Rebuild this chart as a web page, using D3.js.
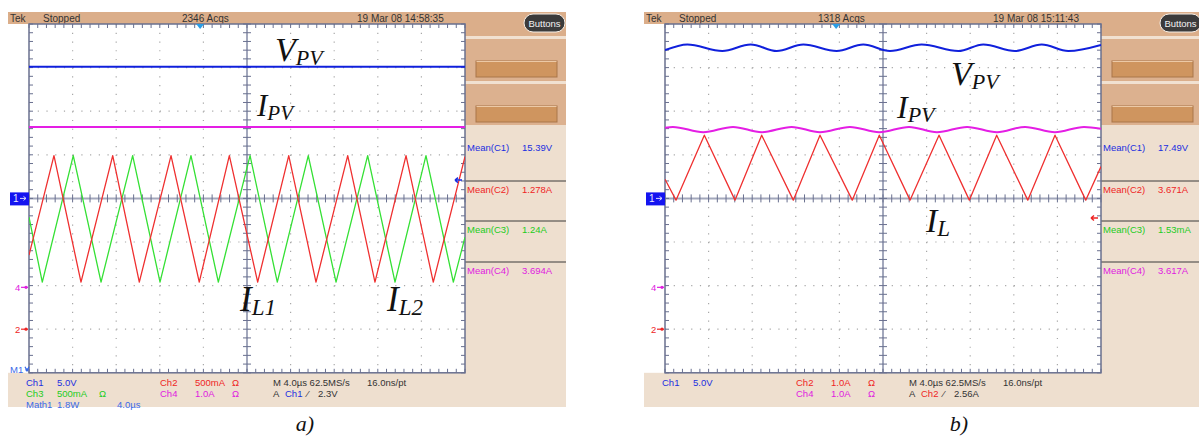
<!DOCTYPE html>
<html><head><meta charset="utf-8">
<script src="https://cdn.jsdelivr.net/npm/d3@7"></script>
<style>
body{margin:0;background:#fff;}
svg{display:block;}
text{font-family:"Liberation Sans",Arial,sans-serif;}
</style>
</head><body>
<svg id="chart" width="1199" height="437"></svg>
<script>
// ---------- axes (oscilloscope graticule) ----------
const timeDomain = [0, 40];          // µs  (4.0 µs/div, 10 div)
const levelDomain = [-4, 4];         // divisions (8 div)
const timeTicks = d3.range(0, 40.001, 4);
const levelTicks = d3.range(-4, 4.001, 1);
const timeMinor = d3.range(0, 40.001, 0.8);
const levelMinor = d3.range(-4, 4.001, 0.2);

// ---------- panel a) traces ----------
const aVpvT = [0, 40];
const aVpvV = [3.02, 3.02];
const aIpvT = [0, 40];
const aIpvV = [1.64, 1.64];
const aCh2T = [0, 2.29, 4.77, 7.68, 10.12, 13.03, 15.62, 18.38, 20.98, 23.83, 26.33, 29.24, 31.74, 34.59, 37.09, 40];
const aCh2V = [-1.30, 0.98, -1.92, 0.98, -1.92, 0.98, -1.92, 0.98, -1.92, 0.98, -1.92, 0.98, -1.92, 0.98, -1.92, 0.96];
const aCh3T = [0, 1.22, 4.06, 6.61, 9.51, 12.02, 14.86, 17.37, 20.28, 22.78, 25.62, 28.17, 31.07, 33.58, 36.42, 38.93, 40];
const aCh3V = [-0.43, -1.92, 0.98, -1.92, 0.98, -1.92, 0.98, -1.92, 0.98, -1.92, 0.98, -1.92, 0.98, -1.92, 0.98, -1.92, -0.89];

// ---------- panel b) traces ----------
const bVpvT = [0, 2.05, 5.26, 7.86, 10.25, 12.69, 15.75, 18.19, 20.64, 23.55, 26.91, 29.2, 32.11, 34.56, 37.0, 40];
const bVpvV = [3.40, 3.53, 3.38, 3.53, 3.38, 3.53, 3.38, 3.53, 3.38, 3.53, 3.38, 3.53, 3.38, 3.53, 3.38, 3.52];
const bIpvT = [0, 0.73, 3.51, 6.24, 8.87, 11.62, 14.22, 16.97, 19.66, 22.39, 24.95, 27.71, 30.46, 33.03, 35.78, 38.44, 40];
const bIpvV = [1.62, 1.64, 1.52, 1.64, 1.52, 1.64, 1.52, 1.64, 1.52, 1.64, 1.52, 1.64, 1.52, 1.64, 1.52, 1.64, 1.60];
const bCh2T = [0, 1.01, 3.61, 6.42, 8.87, 11.77, 14.22, 17.18, 19.66, 22.48, 25.14, 27.92, 30.43, 33.28, 35.78, 38.6, 40];
const bCh2V = [0.44, -0.04, 1.45, -0.04, 1.45, -0.04, 1.45, -0.04, 1.45, -0.04, 1.45, -0.04, 1.45, -0.04, 1.45, -0.04, 0.73];

// ---------- texts ----------
const captions = ["a)", "b)"];
const aHeader = ["Tek", "Stopped", "2346 Acqs", "19 Mar 08 14:58:35"];
const bHeader = ["Tek", "Stopped", "1318 Acqs", "19 Mar 08 15:11:43"];
const meanLabels = ["Mean(C1)", "Mean(C2)", "Mean(C3)", "Mean(C4)"];
const aMeanValues = ["15.39V", "1.278A", "1.24A", "3.694A"];
const bMeanValues = ["17.49V", "3.671A", "1.53mA", "3.617A"];
const aReadout = [
  ["ch1", "Ch1", "5.0V", ""], ["ch3", "Ch3", "500mA", "Ω"], ["math", "Math1", "1.8W", "4.0µs"],
  ["ch2", "Ch2", "500mA", "Ω"], ["ch4", "Ch4", "1.0A", "Ω"]
];
const bReadout = [
  ["ch1", "Ch1", "5.0V", ""], ["ch2", "Ch2", "1.0A", "Ω"], ["ch4", "Ch4", "1.0A", "Ω"]
];
const timebaseText = ["M 4.0µs 62.5MS/s", "16.0ns/pt"];
const aTrigger = ["A", "Ch1", "⁄", "2.3V"];
const bTrigger = ["A", "Ch2", "⁄", "2.56A"];
const aLabels = [["V", "PV"], ["I", "PV"], ["I", "L1"], ["I", "L2"]];
const bLabels = [["V", "PV"], ["I", "PV"], ["I", "L"]];
// reference markers (levels in divisions)
const chRefLevels = {"1": 0, "4": -2.04, "2": -3.0, "M1": -3.93};
const triggerTime = 15.7;
const aTrigLevel = 0.42, bTrigLevel = -0.45;

// ---------- styles ----------
const col = {
  ch1: "#1a2ee0", ch2: "#ee2525", ch3: "#22cc22", ch4: "#e020e0", math: "#3a6ae8",
  txt: "#333333", tan: "#dbae8a", box: "#dcb18f", stripe: "#f1e1d1", beige: "#eedfcf",
  btn: "#cf955f", frame: "#69708f", cross: "#a3a8bc", dot: "#a8a8a8"
};
const trace = {
  vpv: {c: "#1020dc", w: 2}, ipv: {c: "#e41ee4", w: 2},
  ch2: {c: "#ef3030", w: 1.3}, ch3: {c: "#34e034", w: 1.3}
};

const svg = d3.select("#chart");
const zip = (t, v) => t.map((d, i) => [d, v[i]]);

function drawScope(ox, cfg) {
  const g = svg.append("g").attr("transform", `translate(${ox},0)`);
  const x = d3.scaleLinear().domain(timeDomain).range([29, 465]);
  const y = d3.scaleLinear().domain(levelDomain).range([372.8, 24]);
  const X0 = x.range()[0], X1 = x.range()[1], Y0 = y.range()[1], Y1 = y.range()[0];

  // header bar
  g.append("rect").attr("x", 8).attr("y", 12).attr("width", 558).attr("height", 12).attr("fill", col.tan);
  const hx = [10, 43, 182, 357];
  cfg.header.forEach((t, i) => g.append("text").attr("x", hx[i]).attr("y", 21.5)
    .attr("font-size", 10).attr("fill", col.txt).text(t));

  // right side panel
  g.append("rect").attr("x", X1).attr("y", 24).attr("width", 101).attr("height", 383).attr("fill", col.beige);
  g.append("rect").attr("x", X1).attr("y", 24).attr("width", 101).attr("height", 101).attr("fill", col.tan);
  [[39, 80], [84, 125]].forEach(([a, b], i) => {
    g.append("rect").attr("x", X1).attr("y", a - 3).attr("width", 101).attr("height", 3).attr("fill", col.stripe);
    g.append("rect").attr("x", X1).attr("y", a).attr("width", 101).attr("height", b - a).attr("fill", col.box);
    const by = i === 0 ? 61 : 106;
    g.append("rect").attr("x", 476).attr("y", by).attr("width", 81).attr("height", 16)
      .attr("fill", col.btn).attr("stroke", "#a9764a").attr("stroke-width", 1);
    g.append("line").attr("x1", 476.5).attr("x2", 556.5).attr("y1", by + 0.5).attr("y2", by + 0.5)
      .attr("stroke", "#ecc9a6").attr("stroke-width", 1);
  });
  // Buttons pill
  g.append("rect").attr("x", 524).attr("y", 14).attr("width", 41).attr("height", 18).attr("rx", 9)
    .attr("fill", "#3b3b3b").attr("stroke", "#f5efe8").attr("stroke-width", 1);
  g.append("text").attr("x", 544.5).attr("y", 26.5).attr("text-anchor", "middle").attr("font-size", 9.5)
    .attr("fill", "#f2f2f2").text("Buttons");

  // mean measurements
  const mKeys = ["ch1", "ch2", "ch3", "ch4"];
  const my = [147, 189, 229, 270];
  [181, 221, 262].forEach(s => g.append("line").attr("x1", X1).attr("x2", 566).attr("y1", s).attr("y2", s)
    .attr("stroke", "#3a3a3a").attr("stroke-width", 1));
  meanLabels.forEach((t, i) => {
    g.append("text").attr("x", 467).attr("y", my[i] + 3.5).attr("font-size", 9.5).attr("fill", col[mKeys[i]]).text(t);
    g.append("text").attr("x", 522).attr("y", my[i] + 3.5).attr("font-size", 9.5).attr("fill", col[mKeys[i]]).text(cfg.means[i]);
  });

  // bottom readout panel
  g.append("rect").attr("x", 8).attr("y", Y1).attr("width", 558).attr("height", 407 - Y1).attr("fill", col.beige);
  const slot = {
    ch1: [26, 382, 57, 0], ch3: [26, 393, 57, 99], math: [26, 404, 57, 117],
    ch2: [160, 382, 195, 232], ch4: [160, 393, 195, 232]
  };
  cfg.readout.forEach(([k, a, b, c]) => {
    const s = slot[k];
    const fill = col[k];
    g.append("text").attr("x", s[0]).attr("y", s[1] + 3.5).attr("font-size", 9.5).attr("fill", fill).text(a);
    g.append("text").attr("x", s[2]).attr("y", s[1] + 3.5).attr("font-size", 9.5).attr("fill", fill).text(b);
    if (c) g.append("text").attr("x", s[3]).attr("y", s[1] + 3.5).attr("font-size", 9.5).attr("fill", fill).text(c);
  });
  g.append("text").attr("x", 273).attr("y", 385.5).attr("font-size", 9.5).attr("fill", col.txt).text(timebaseText[0]);
  g.append("text").attr("x", 367).attr("y", 385.5).attr("font-size", 9.5).attr("fill", col.txt).text(timebaseText[1]);
  const tx = [273, 285, 307, 318];
  cfg.trigger.forEach((t, i) => g.append("text").attr("x", tx[i]).attr("y", 396.5).attr("font-size", 9.5)
    .attr("fill", i === 1 ? col[cfg.trigCh] : col.txt).text(t));

  // graticule
  g.append("rect").attr("x", X0).attr("y", Y0).attr("width", X1 - X0).attr("height", Y1 - Y0).attr("fill", "#fff");
  const grid = g.append("g");
  timeTicks.filter(t => t > 0 && t < 40 && t !== 20).forEach(t =>
    grid.append("line").attr("x1", x(t)).attr("x2", x(t)).attr("y1", Y0).attr("y2", Y1)
      .attr("stroke", col.dot).attr("stroke-width", 1.2).attr("stroke-dasharray", "1.2,7.52"));
  levelTicks.filter(v => v > -4 && v < 4 && v !== 0).forEach(v =>
    grid.append("line").attr("x1", X0).attr("x2", X1).attr("y1", y(v)).attr("y2", y(v))
      .attr("stroke", col.dot).attr("stroke-width", 1.2).attr("stroke-dasharray", "1.2,7.52"));
  // center cross
  grid.append("line").attr("x1", X0).attr("x2", X1).attr("y1", y(0)).attr("y2", y(0)).attr("stroke", col.cross).attr("stroke-width", 2);
  grid.append("line").attr("x1", x(20)).attr("x2", x(20)).attr("y1", Y0).attr("y2", Y1).attr("stroke", col.cross).attr("stroke-width", 2);
  timeMinor.forEach(t => {
    grid.append("line").attr("x1", x(t)).attr("x2", x(t)).attr("y1", y(0) - 4).attr("y2", y(0) + 4).attr("stroke", col.frame).attr("stroke-width", 1);
    grid.append("line").attr("x1", x(t)).attr("x2", x(t)).attr("y1", Y0).attr("y2", Y0 + 4).attr("stroke", col.frame).attr("stroke-width", 1);
    grid.append("line").attr("x1", x(t)).attr("x2", x(t)).attr("y1", Y1 - 4).attr("y2", Y1).attr("stroke", col.frame).attr("stroke-width", 1);
  });
  levelMinor.forEach(v => {
    grid.append("line").attr("x1", x(20) - 4).attr("x2", x(20) + 4).attr("y1", y(v)).attr("y2", y(v)).attr("stroke", col.frame).attr("stroke-width", 1);
    grid.append("line").attr("x1", X0).attr("x2", X0 + 4).attr("y1", y(v)).attr("y2", y(v)).attr("stroke", col.frame).attr("stroke-width", 1);
    grid.append("line").attr("x1", X1 - 4).attr("x2", X1).attr("y1", y(v)).attr("y2", y(v)).attr("stroke", col.frame).attr("stroke-width", 1);
  });
  g.append("rect").attr("x", X0).attr("y", Y0).attr("width", X1 - X0).attr("height", Y1 - Y0)
    .attr("fill", "none").attr("stroke", col.frame).attr("stroke-width", 1.5);

  // traces
  const clipId = "clip" + ox;
  g.append("clipPath").attr("id", clipId).append("rect").attr("x", X0).attr("y", Y0).attr("width", X1 - X0).attr("height", Y1 - Y0);
  const tg = g.append("g").attr("clip-path", `url(#${clipId})`);
  cfg.traces.forEach(tr => {
    const line = d3.line().x(d => x(d[0])).y(d => y(d[1])).curve(tr.smooth ? d3.curveMonotoneX : d3.curveLinear);
    tg.append("path").attr("d", line(tr.data)).attr("fill", "none")
      .attr("stroke", trace[tr.k].c).attr("stroke-width", trace[tr.k].w).attr("stroke-linejoin", "round");
  });

  // trigger position marker (top)
  const tpx = x(triggerTime);
  g.append("path").attr("d", `M${tpx - 4},${Y0} L${tpx + 4},${Y0} L${tpx},${Y0 + 5} Z`).attr("fill", "#2a9ee6");
  // trigger level arrow (right)
  const tly = y(cfg.trigLevel);
  g.append("path").attr("d", `M${X1 - 3},${tly} L${X1 - 10},${tly} M${X1 - 10},${tly} l3,-2.5 M${X1 - 10},${tly} l3,2.5`)
    .attr("stroke", col[cfg.trigCh]).attr("stroke-width", 1.5).attr("fill", "none");

  // channel reference markers (left)
  const y1m = y(chRefLevels["1"]);
  g.append("rect").attr("x", 10).attr("y", y1m - 6).attr("width", 19).attr("height", 13).attr("fill", "#1414f0");
  g.append("text").attr("x", 13).attr("y", y1m + 4).attr("font-size", 10).attr("fill", "#e8e8ff").text("1");
  g.append("path").attr("d", `M20,${y1m} L26,${y1m} M23.5,${y1m - 2} L26,${y1m} L23.5,${y1m + 2}`)
    .attr("stroke", "#d8d8ff").attr("stroke-width", 1).attr("fill", "none");
  cfg.markers.forEach(m => {
    const yy = y(chRefLevels[m.k]);
    g.append("text").attr("x", m.k === "M1" ? 10 : 15).attr("y", yy + 3.5).attr("font-size", 9.5).attr("fill", m.c).text(m.k);
    g.append("path").attr("d", m.k === "M1" ? `M25,${yy - 3} L27,${yy + 1} L29,${yy - 3}` : `M21,${yy} L28,${yy}`)
      .attr("stroke", m.c).attr("stroke-width", 1.2).attr("fill", "none");
    g.append("circle").attr("cx", m.k === "M1" ? 27 : 26).attr("cy", yy).attr("r", 1.6).attr("fill", m.c);
  });

  // annotations (italic serif labels)
  cfg.labels.forEach((lab, i) => {
    const p = cfg.labelPos[i];
    const t = g.append("text").attr("x", p[0]).attr("y", p[1]).attr("fill", "#111")
      .style("font-family", "'Liberation Serif','Times New Roman',serif").style("font-style", "italic");
    t.append("tspan").attr("font-size", p[2]).text(lab[0]);
    t.append("tspan").attr("font-size", p[3]).attr("dy", 4).text(lab[1]);
  });

  // caption
  g.append("text").attr("x", cfg.captionX).attr("y", 431).attr("text-anchor", "middle").attr("font-size", 22)
    .style("font-family", "'Liberation Serif','Times New Roman',serif").style("font-style", "italic").attr("fill", "#111")
    .text(cfg.caption);
}

drawScope(0, {
  header: aHeader, means: aMeanValues, readout: aReadout, trigger: aTrigger, trigCh: "ch1",
  trigLevel: aTrigLevel, caption: captions[0], captionX: 305,
  traces: [
    {k: "vpv", data: zip(aVpvT, aVpvV)}, {k: "ipv", data: zip(aIpvT, aIpvV)},
    {k: "ch3", data: zip(aCh3T, aCh3V)}, {k: "ch2", data: zip(aCh2T, aCh2V)}
  ],
  markers: [{k: "4", c: col.ch4}, {k: "2", c: col.ch2}, {k: "M1", c: col.math}],
  labels: aLabels,
  labelPos: [[275, 61, 34, 22], [257, 116, 31, 21], [240, 311, 35, 23], [387, 311, 35, 23]]
});
drawScope(636, {
  header: bHeader, means: bMeanValues, readout: bReadout, trigger: bTrigger, trigCh: "ch2",
  trigLevel: bTrigLevel, caption: captions[1], captionX: 323,
  traces: [
    {k: "vpv", data: zip(bVpvT, bVpvV), smooth: true}, {k: "ipv", data: zip(bIpvT, bIpvV), smooth: true},
    {k: "ch2", data: zip(bCh2T, bCh2V)}
  ],
  markers: [{k: "4", c: col.ch4}, {k: "2", c: col.ch2}],
  labels: bLabels,
  labelPos: [[315, 85, 34, 22], [261, 118, 32, 22], [290, 232, 34, 23]]
});
</script>
</body></html>
